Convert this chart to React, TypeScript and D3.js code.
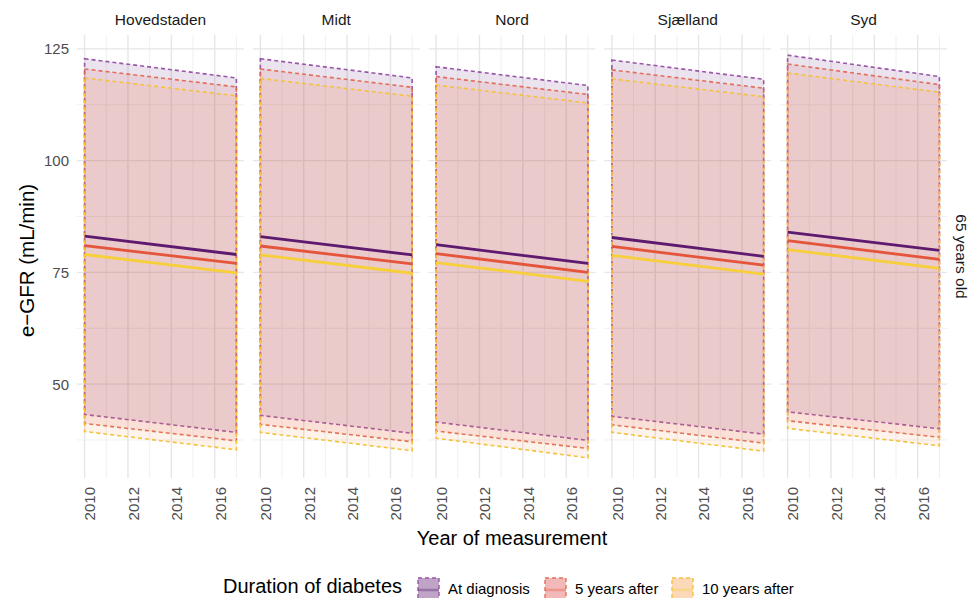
import React from 'react';
import * as d3 from 'd3';

// facets and groups
const regions = ['Hovedstaden', 'Midt', 'Nord', 'Sjælland', 'Syd'];
const durations = ['At diagnosis', '5 years after', '10 years after'];
const years = [2010, 2017];

// axis ticks
const xTicks = [2010, 2012, 2014, 2016];
const xMinor = [2011, 2013, 2015, 2017];
const yTicks = [50, 75, 100, 125];
const yMinor = [37.5, 62.5, 87.5, 112.5];

// e-GFR per region, values at [2010, 2017]
const meanAtDiagnosis = [[83.1, 79.0], [83.0, 78.9], [81.2, 77.0], [82.8, 78.6], [84.0, 79.9]];
const upperAtDiagnosis = [[122.8, 118.5], [122.8, 118.5], [121.0, 116.8], [122.5, 118.2], [123.6, 118.8]];
const lowerAtDiagnosis = [[43.2, 39.2], [43.0, 39.0], [41.5, 37.4], [42.8, 38.8], [43.8, 40.0]];

const mean5Years = [[81.0, 77.0], [80.9, 76.9], [79.2, 75.0], [80.8, 76.6], [82.1, 77.9]];
const upper5Years = [[120.5, 116.5], [120.5, 116.4], [118.8, 114.8], [120.3, 116.2], [121.6, 117.0]];
const lower5Years = [[41.2, 37.3], [41.0, 37.1], [39.5, 35.6], [40.9, 36.8], [41.8, 38.1]];

const mean10Years = [[79.0, 74.9], [78.9, 74.8], [77.2, 73.0], [78.8, 74.6], [80.1, 75.9]];
const upper10Years = [[118.5, 114.5], [118.4, 114.4], [116.9, 112.9], [118.3, 114.3], [119.6, 115.3]];
const lower10Years = [[39.4, 35.3], [39.2, 35.1], [37.9, 33.5], [39.2, 35.0], [40.1, 36.2]];

const groups = [
  { mean: meanAtDiagnosis, upper: upperAtDiagnosis, lower: lowerAtDiagnosis },
  { mean: mean5Years, upper: upper5Years, lower: lower5Years },
  { mean: mean10Years, upper: upper10Years, lower: lower10Years },
];

const lineColors = ['#5d1a6f', '#e4553b', '#f6cf3a'];
const outlineColors = ['#9a56a8', '#e26f58', '#f4c23e'];
const fillColors = ['#5e1b73', '#e05050', '#f7a050'];

const W = 969;
const H = 598;
const panelLeft = 77;
const panelW = 167;
const gap = 8.75;
const panelTop = 35;
const panelBottom = 478;
const font = '"Liberation Sans", Arial, sans-serif';

export default function App() {
  const lo = d3.min(groups, g => d3.min(g.lower.flat())) as number;
  const hi = d3.max(groups, g => d3.max(g.upper.flat())) as number;
  const pad = (hi - lo) * 0.05;
  const y = d3.scaleLinear().domain([lo - pad, hi + pad]).range([panelBottom, panelTop]);

  const xPad = (years[1] - years[0]) * 0.05;
  const xFor = (i: number) => {
    const left = panelLeft + i * (panelW + gap);
    return d3.scaleLinear().domain([years[0] - xPad, years[1] + xPad]).range([left, left + panelW]);
  };

  const panelsRight = panelLeft + regions.length * panelW + (regions.length - 1) * gap;
  const centerX = (panelLeft + panelsRight) / 2;
  const centerY = (panelTop + panelBottom) / 2;

  return (
    <svg width={W} height={H} style={{ position: 'fixed', left: 0, top: 0, background: '#fff' }} fontFamily={font}>
      {regions.map((region, ri) => {
        const x = xFor(ri);
        const [x0, x1] = x.range();
        const area = d3.area<number[]>()
          .x((_, i) => x(years[i]))
          .y0(d => y(d[0]))
          .y1(d => y(d[1]));
        const line = d3.line<number>().x((_, i) => x(years[i])).y(d => y(d));
        return (
          <g key={region}>
            {/* grid */}
            {yMinor.map(t => (
              <line key={'ym' + t} x1={x0} x2={x1} y1={y(t)} y2={y(t)} stroke="#eeeeee" strokeWidth={0.9} />
            ))}
            {xMinor.map(t => (
              <line key={'xm' + t} x1={x(t)} x2={x(t)} y1={panelTop} y2={panelBottom} stroke="#eeeeee" strokeWidth={0.9} />
            ))}
            {yTicks.map(t => (
              <line key={'y' + t} x1={x0} x2={x1} y1={y(t)} y2={y(t)} stroke="#e6e6e6" strokeWidth={1.4} />
            ))}
            {xTicks.map(t => (
              <line key={'x' + t} x1={x(t)} x2={x(t)} y1={panelTop} y2={panelBottom} stroke="#e6e6e6" strokeWidth={1.4} />
            ))}

            {/* ribbons */}
            {groups.map((g, gi) => {
              const pts = g.lower[ri].map((l, i) => [l, g.upper[ri][i]]);
              return (
                <path key={'r' + gi} d={area(pts) || ''} fill={fillColors[gi]} fillOpacity={0.12}
                  stroke={outlineColors[gi]} strokeWidth={1.6} strokeDasharray="4 3" />
              );
            })}

            {/* mean lines */}
            {groups.map((g, gi) => (
              <path key={'l' + gi} d={line(g.mean[ri]) || ''} fill="none" stroke={lineColors[gi]} strokeWidth={2.8} />
            ))}

            {/* strip */}
            <text x={(x0 + x1) / 2} y={25} textAnchor="middle" fontSize={15.5} fill="#1a1a1a">{region}</text>

            {/* x tick labels */}
            {xTicks.map(t => (
              <text key={'xt' + t} transform={`translate(${x(t)},${panelBottom + 9}) rotate(-90)`}
                textAnchor="end" dy="0.72em" fontSize={15} fill="#4d4d4d">{t}</text>
            ))}
          </g>
        );
      })}

      {/* y tick labels */}
      {yTicks.map(t => (
        <text key={'yt' + t} x={panelLeft - 8} y={y(t)} dy="0.36em" textAnchor="end" fontSize={15} fill="#4d4d4d">{t}</text>
      ))}

      {/* axis titles */}
      <text transform={`translate(${34},${centerY + 4}) rotate(-90)`} textAnchor="middle" fontSize={20.5} fill="#000">e−GFR (mL/min)</text>
      <text x={centerX} y={545} textAnchor="middle" fontSize={20} fill="#000">Year of measurement</text>

      {/* right strip */}
      <text transform={`translate(${956},${centerY}) rotate(90)`} textAnchor="middle" fontSize={15.5} fill="#1a1a1a">65 years old</text>

      {/* legend */}
      <text x={223} y={593} fontSize={20} fill="#000">Duration of diabetes</text>
      {durations.map((d, i) => {
        const kx = 418 + i * 127;
        return (
          <g key={d}>
            <rect x={kx} y={578} width={21} height={24} fill={fillColors[i]} fillOpacity={0.4}
              stroke={outlineColors[i]} strokeWidth={1.4} strokeDasharray="4 3" />
            <line x1={kx} x2={kx + 21} y1={590} y2={590} stroke={lineColors[i]} strokeOpacity={0.35} strokeWidth={2.6} />
            <text x={kx + 30} y={594} fontSize={15} fill="#000">{d}</text>
          </g>
        );
      })}
    </svg>
  );
}
